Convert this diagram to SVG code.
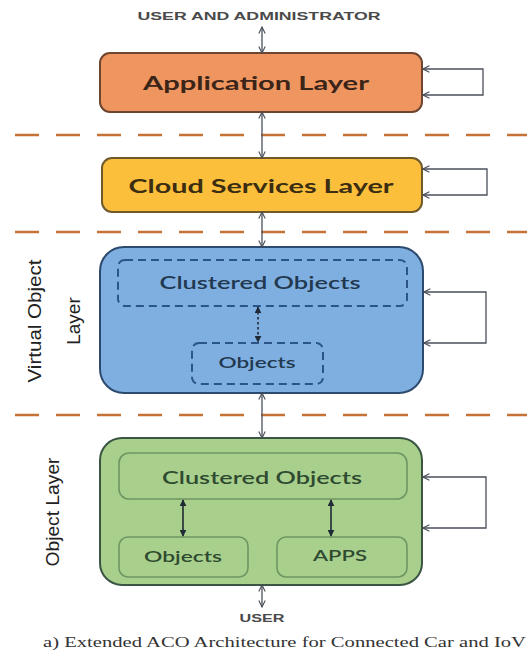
<svg xmlns="http://www.w3.org/2000/svg" width="527" height="654" viewBox="0 0 527 654">
  <defs>
    <marker id="openHead" viewBox="0 0 10 10" refX="9" refY="5" markerWidth="8" markerHeight="8" markerUnits="userSpaceOnUse" orient="auto-start-reverse">
      <path d="M1,1 L9,5 L1,9" fill="none" stroke="#4a4f5a" stroke-width="1.4"/>
    </marker>
    <marker id="fillHead" viewBox="0 0 10 10" refX="9" refY="5" markerWidth="7" markerHeight="7" markerUnits="userSpaceOnUse" orient="auto-start-reverse">
      <path d="M0,0 L10,5 L0,10 Z" fill="#1f2a36"/>
    </marker>
  </defs>
  <style>
    .sep { stroke: #c47236; stroke-width: 2.6; stroke-dasharray: 24 17; fill: none; }
    .link { stroke: #4a4f5a; stroke-width: 1.3; fill: none; marker-start: url(#openHead); marker-end: url(#openHead); }
    .inner { stroke: #1f2a36; stroke-width: 1.6; fill: none; marker-start: url(#fillHead); marker-end: url(#fillHead); }
    .lbl { font-family: Lato, "Open Sans", "Liberation Sans", sans-serif; text-anchor: middle; }
    .side { font-family: "Liberation Sans", Arial, sans-serif; font-size: 19px; fill: #222; text-anchor: middle; }
    .ext { font-family: "Liberation Sans", Arial, sans-serif; font-weight: bold; font-size: 11px; fill: #4a4a4a; text-anchor: middle; }
  </style>
  <rect width="527" height="654" fill="#ffffff"/>

  <!-- layer separators -->
  <g id="separators">
    <line class="sep" x1="15" y1="135" x2="527" y2="135"/>
    <line class="sep" x1="15" y1="232" x2="527" y2="232"/>
    <line class="sep" x1="15" y1="415" x2="527" y2="415"/>
  </g>

  <!-- external actors -->
  <text class="ext" x="259" y="20" textLength="243" lengthAdjust="spacingAndGlyphs">USER AND ADMINISTRATOR</text>
  <text class="ext" x="262" y="622" textLength="45" lengthAdjust="spacingAndGlyphs">USER</text>

  <!-- side labels -->
  <text class="side" transform="translate(41,321) rotate(-90)" textLength="123" lengthAdjust="spacingAndGlyphs">Virtual Object</text>
  <text class="side" transform="translate(80,321) rotate(-90)">Layer</text>
  <text class="side" transform="translate(59,512) rotate(-90)" textLength="109" lengthAdjust="spacingAndGlyphs">Object Layer</text>

  <g id="application-layer">
    <rect x="100" y="53" width="322" height="59" rx="10" fill="#ef9660" stroke="#6e4630" stroke-width="2"/>
    <text class="lbl" x="256" y="90" font-size="19" font-weight="bold" fill="#3b2418" textLength="226" lengthAdjust="spacingAndGlyphs">Application Layer</text>
  </g>

  <g id="cloud-services-layer">
    <rect x="102" y="158" width="320" height="54" rx="10" fill="#fbbf3c" stroke="#6f5a2c" stroke-width="2"/>
    <text class="lbl" x="261" y="193" font-size="19" font-weight="bold" fill="#3a2d12" textLength="265" lengthAdjust="spacingAndGlyphs">Cloud Services Layer</text>
  </g>

  <g id="virtual-object-layer">
    <rect x="100" y="247" width="323" height="146" rx="24" fill="#7fafe0" stroke="#2c4a6e" stroke-width="2"/>
    <g id="virtual-clustered-objects">
      <rect x="118" y="260" width="289" height="46" rx="7" fill="none" stroke="#2a5587" stroke-width="2" stroke-dasharray="8 5"/>
      <text class="lbl" x="260" y="289" font-size="17" font-weight="600" fill="#22384f" textLength="201" lengthAdjust="spacingAndGlyphs">Clustered Objects</text>
    </g>
    <g id="virtual-objects">
      <rect x="192" y="343" width="131" height="41" rx="7" fill="none" stroke="#2a5587" stroke-width="2" stroke-dasharray="8 5"/>
      <text class="lbl" x="257" y="368" font-size="15" font-weight="600" fill="#22384f" textLength="77" lengthAdjust="spacingAndGlyphs">Objects</text>
    </g>
  </g>

  <g id="object-layer">
    <rect x="100" y="438" width="322" height="147" rx="22" fill="#a8d08c" stroke="#3a5543" stroke-width="2"/>
    <g id="clustered-objects">
      <rect x="119" y="453" width="288" height="46" rx="10" fill="#a8d08c" stroke="#6f9562" stroke-width="1.6"/>
      <text class="lbl" x="262" y="484" font-size="18" font-weight="600" fill="#2f4a30" textLength="200" lengthAdjust="spacingAndGlyphs">Clustered Objects</text>
    </g>
    <g id="objects">
      <rect x="119" y="537" width="129" height="40" rx="9" fill="#a8d08c" stroke="#6f9562" stroke-width="1.6"/>
      <text class="lbl" x="183" y="562" font-size="15" font-weight="600" fill="#2f4a30" textLength="78" lengthAdjust="spacingAndGlyphs">Objects</text>
    </g>
    <g id="apps">
      <rect x="277" y="537" width="130" height="40" rx="9" fill="#a8d08c" stroke="#6f9562" stroke-width="1.6"/>
      <text class="lbl" x="340" y="561" font-size="15" font-weight="600" fill="#2f4a30" textLength="54" lengthAdjust="spacingAndGlyphs">APPS</text>
    </g>
  </g>

  <g id="connectors">
    <!-- vertical links between layers -->
    <line class="link" x1="262" y1="27" x2="262" y2="53"/>
    <line class="link" x1="262" y1="112" x2="262" y2="158"/>
    <line class="link" x1="262" y1="212" x2="262" y2="247"/>
    <line class="link" x1="262" y1="393" x2="262" y2="438"/>
    <line class="link" x1="262" y1="585" x2="262" y2="607"/>
    <!-- self loops on each layer -->
    <path class="link" d="M423,69 H483 V95 H423"/>
    <path class="link" d="M423,169 H487 V195 H423"/>
    <path class="link" d="M424,292 H486 V343 H424"/>
    <path class="link" d="M423,477 H486 V528 H423"/>
    <!-- links inside layers -->
    <line class="inner" x1="258" y1="307" x2="258" y2="342" stroke-dasharray="2.5 2.5"/>
    <line class="inner" x1="183" y1="500" x2="183" y2="536"/>
    <line class="inner" x1="331" y1="500" x2="331" y2="536"/>
  </g>

  <text x="43" y="647" font-family="'Liberation Serif', 'Times New Roman', serif" font-size="15" fill="#333" textLength="483" lengthAdjust="spacingAndGlyphs">a) Extended  ACO Architecture for Connected  Car and IoV</text>
</svg>
